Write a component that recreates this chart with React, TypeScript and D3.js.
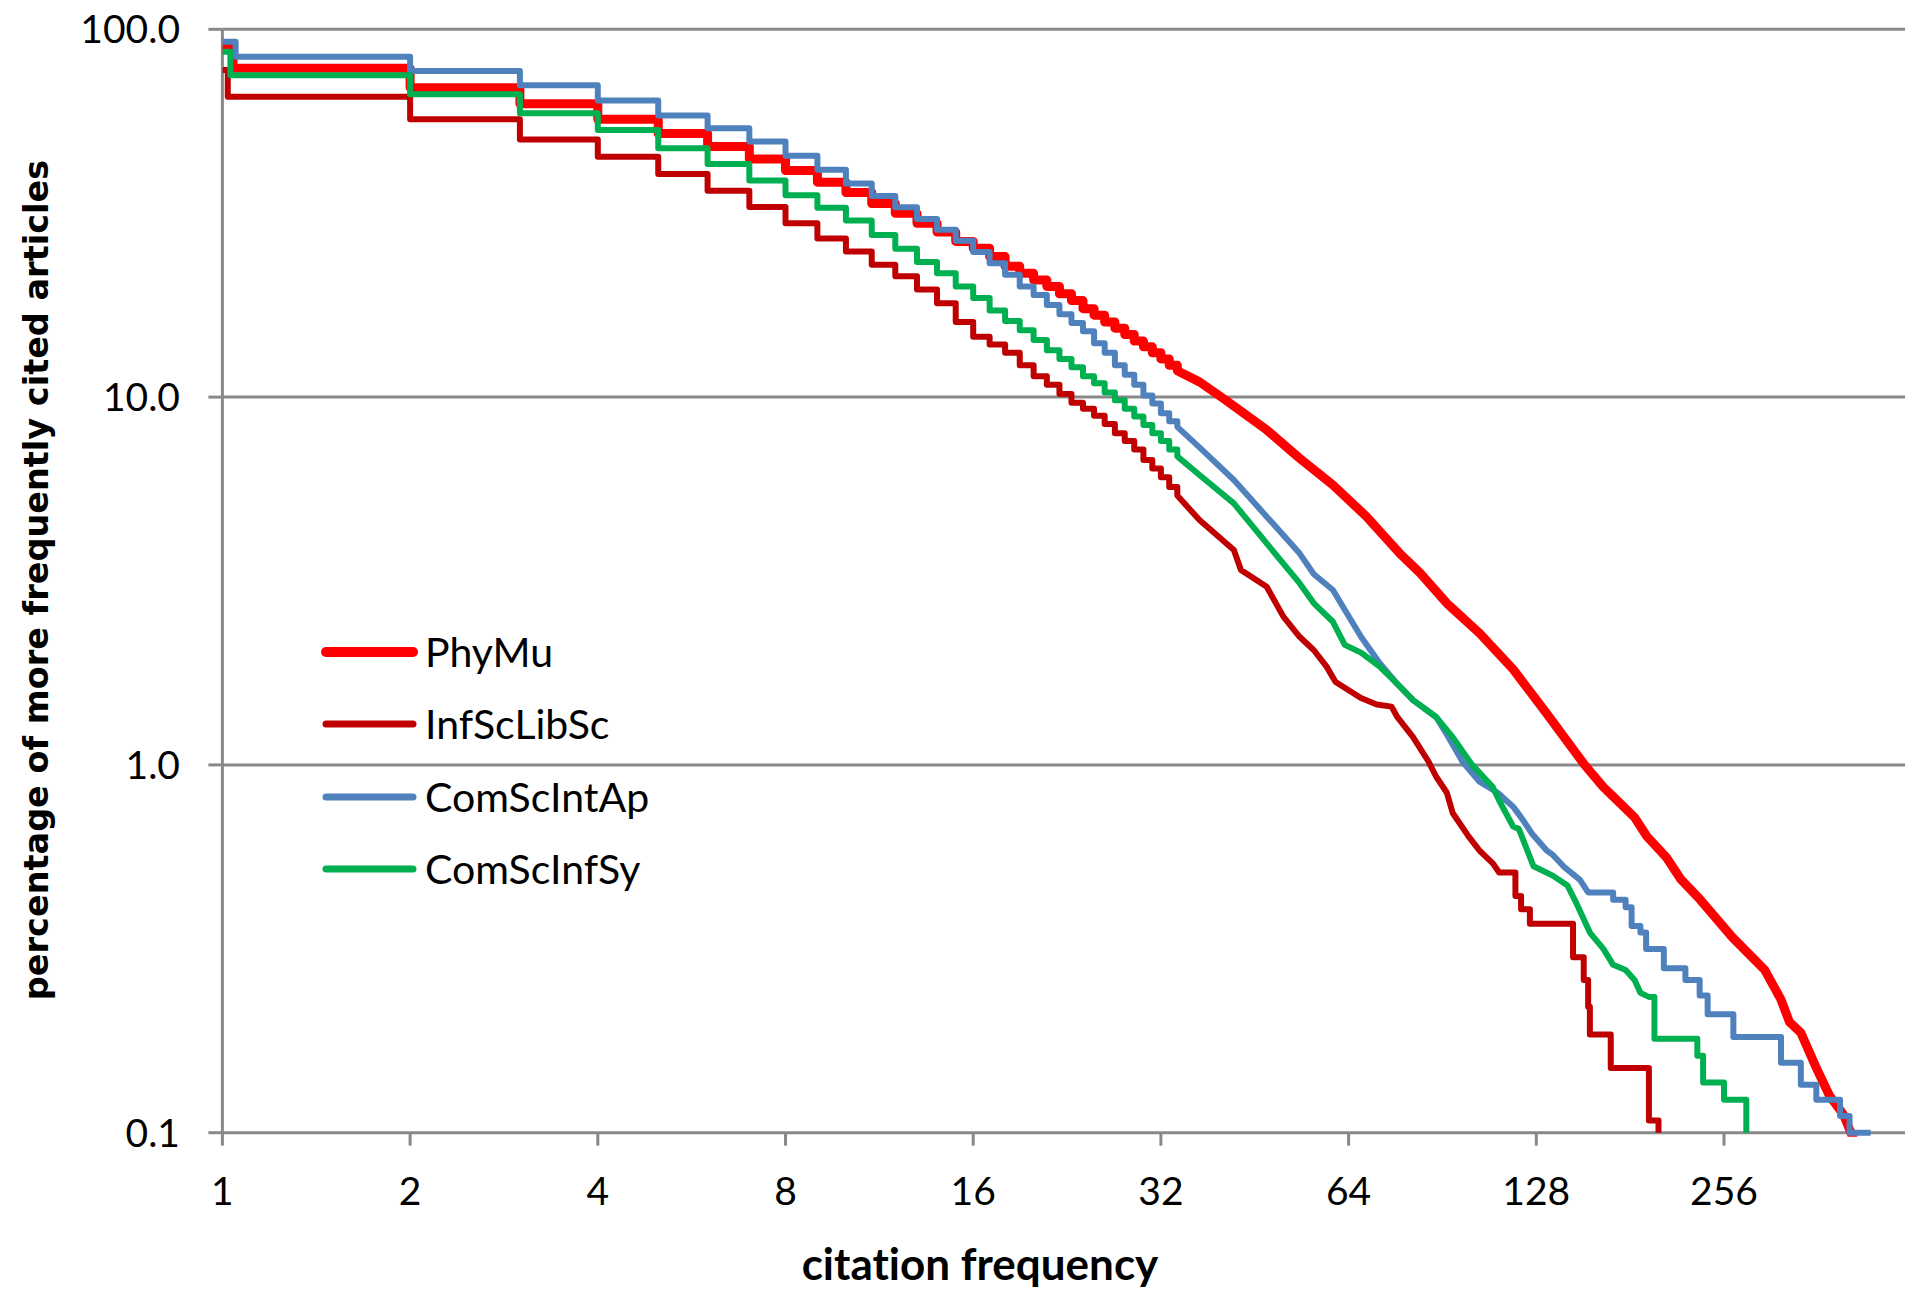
import React from 'react';
import * as d3 from 'd3';

const W = 1905;
const H = 1291;

// ---- axis ticks ----
const xTicks = [1, 2, 4, 8, 16, 32, 64, 128, 256];
const yTicks = [0.1, 1, 10, 100];
const yTickLabels = ['0.1', '1.0', '10.0', '100.0'];

// ---- series meta ----
const seriesNames = ['PhyMu', 'InfScLibSc', 'ComScIntAp', 'ComScInfSy'];
const seriesColors = ['#FF0000', '#C00000', '#4F81BD', '#00B050'];
const seriesWidths = [9, 6, 6, 6];

// ---- PhyMu ----
const phyHeadCit = [1, 1.04, 2, 3, 4, 5, 6, 7, 8, 9, 10, 11, 12, 13, 14, 15, 16, 17, 18, 19, 20, 21, 22, 23, 24, 25, 26, 27, 28, 29, 30, 31, 32, 33];
const phyHeadPct = [89, 78.3, 69.4, 62.7, 56.9, 52.1, 48.0, 44.4, 41.3, 38.4, 36.0, 33.6, 31.6, 29.7, 28.1, 26.5, 25.4, 24.1, 22.7, 21.7, 20.8, 20.0, 19.1, 18.3, 17.4, 16.7, 16.0, 15.4, 14.8, 14.2, 13.7, 13.2, 12.7, 12.2];
const phyMidCit = [34, 36.9, 40.7, 47.3, 53.4, 60.4, 68.4, 77.4, 83.4, 92, 103.8, 117.5, 133, 153, 164, 170, 184, 192.5, 207, 218, 234.5, 264, 297.5, 316, 326, 340, 360, 378, 398, 412, 420];
const phyMidPct = [11.8, 11.0, 9.8, 8.14, 6.82, 5.77, 4.73, 3.75, 3.32, 2.75, 2.28, 1.82, 1.38, 1.0, 0.87, 0.82, 0.72, 0.64, 0.56, 0.49, 0.43, 0.34, 0.277, 0.23, 0.2, 0.187, 0.15, 0.126, 0.112, 0.097, 0.09];
const phyTailCit: number[] = [];
const phyTailPct: number[] = [];

// ---- InfScLibSc ----
const infHeadCit = [1, 1.02, 2, 3, 4, 5, 6, 7, 8, 9, 10, 11, 12, 13, 14, 15, 16, 17, 18, 19, 20, 21, 22, 23, 24, 25, 26, 27, 28, 29, 30, 31, 32, 33];
const infHeadPct = [77.5, 65.6, 56.9, 50.2, 45.0, 40.4, 36.4, 32.9, 29.7, 27.0, 24.9, 22.9, 21.3, 19.6, 18.0, 16.0, 14.6, 13.9, 13.2, 12.2, 11.4, 10.8, 10.2, 9.65, 9.3, 8.9, 8.45, 7.97, 7.6, 7.2, 6.75, 6.4, 6.05, 5.7];
const infMidCit = [34, 36.9, 41.9, 43, 47.3, 50.3, 53.4, 56.3, 59, 61, 67, 71, 75, 76.6, 81.2, 86, 88.4, 92, 94, 99.6, 103.8, 109, 111.6];
const infMidPct = [5.4, 4.63, 3.84, 3.39, 3.05, 2.53, 2.23, 2.05, 1.85, 1.68, 1.52, 1.46, 1.44, 1.35, 1.19, 1.02, 0.93, 0.84, 0.74, 0.64, 0.585, 0.54, 0.51];
const infTailCit = [118.5, 121, 125, 146.6, 152.5, 155, 156, 168.5, 194, 201];
const infTailPct = [0.44, 0.405, 0.37, 0.3, 0.26, 0.22, 0.185, 0.15, 0.108, 0.1];

// ---- ComScIntAp ----
const intHeadCit = [1, 1.05, 2, 3, 4, 5, 6, 7, 8, 9, 10, 11, 12, 13, 14, 15, 16, 17, 18, 19, 20, 21, 22, 23, 24, 25, 26, 27, 28, 29, 30, 31, 32, 33];
const intHeadPct = [92.5, 84.2, 77.0, 70.4, 64.0, 58.3, 53.8, 49.5, 45.3, 41.5, 38.1, 35.2, 32.8, 30.5, 28.5, 26.6, 24.8, 23.1, 21.5, 20.0, 18.95, 17.8, 16.8, 15.9, 15.1, 14.0, 13.2, 12.2, 11.5, 10.8, 10.1, 9.6, 9.04, 8.6];
const intMidCit = [34, 36.9, 41.9, 47.3, 53.4, 56.3, 60.4, 63.1, 67, 71.8, 76.6, 81.2, 88.4, 92, 97.5, 103.8, 111, 117.5, 121, 126, 133, 136, 141.5, 150.4, 155];
const intMidPct = [8.3, 7.3, 5.95, 4.73, 3.76, 3.3, 2.99, 2.64, 2.23, 1.89, 1.66, 1.5, 1.35, 1.21, 1.02, 0.9, 0.84, 0.77, 0.72, 0.65, 0.585, 0.57, 0.53, 0.487, 0.45];
const intTailCit = [170, 178, 182, 188, 192, 205, 222, 234, 241, 265, 316, 340, 360, 393, 407, 440];
const intTailPct = [0.43, 0.41, 0.365, 0.35, 0.316, 0.28, 0.26, 0.236, 0.21, 0.182, 0.155, 0.135, 0.123, 0.111, 0.1, 0.1];

// ---- ComScInfSy ----
const sysHeadCit = [1, 1.03, 2, 3, 4, 5, 6, 7, 8, 9, 10, 11, 12, 13, 14, 15, 16, 17, 18, 19, 20, 21, 22, 23, 24, 25, 26, 27, 28, 29, 30, 31, 32, 33];
const sysHeadPct = [86.9, 75.0, 66.6, 59.1, 53.2, 47.5, 43.0, 38.8, 35.4, 32.7, 30.2, 27.6, 25.3, 23.3, 21.7, 20.0, 18.6, 17.2, 16.1, 15.2, 14.3, 13.4, 12.7, 12.05, 11.4, 10.9, 10.3, 9.8, 9.3, 8.85, 8.4, 7.97, 7.6, 7.2];
const sysMidCit = [34, 36.9, 41.9, 47.3, 53.4, 56.3, 60.4, 63.1, 67, 71.8, 76.6, 81.2, 88.4, 94, 101, 109, 111.6, 117.5, 120, 126.7, 136, 143.6, 148, 156, 164, 170, 178, 184, 188, 194];
const sysMidPct = [6.9, 6.14, 5.14, 4.0, 3.12, 2.75, 2.45, 2.12, 2.02, 1.85, 1.66, 1.5, 1.35, 1.19, 1.0, 0.87, 0.8, 0.68, 0.67, 0.53, 0.5, 0.47, 0.425, 0.35, 0.316, 0.286, 0.277, 0.26, 0.24, 0.234];
const sysTailCit = [198, 232, 237, 256, 278];
const sysTailPct = [0.18, 0.162, 0.137, 0.123, 0.1];

const seriesData = [
  [phyHeadCit, phyHeadPct, phyMidCit, phyMidPct, phyTailCit, phyTailPct],
  [infHeadCit, infHeadPct, infMidCit, infMidPct, infTailCit, infTailPct],
  [intHeadCit, intHeadPct, intMidCit, intMidPct, intTailCit, intTailPct],
  [sysHeadCit, sysHeadPct, sysMidCit, sysMidPct, sysTailCit, sysTailPct],
];

// head: step levels (value holds from c_i to next c), mid,
// tail: sparse steps (drop to new level at c)
function buildVertices(hc: number[], hp: number[], mc: number[], mp: number[], tc: number[], tp: number[]) {
  const pts: [number, number][] = [];
  for (let i = 0; i < hc.length; i++) {
    pts.push([hc[i], hp[i]]);
    const next = i + 1 < hc.length ? hc[i + 1] : (mc.length ? mc[0] : tc[0]);
    if (next !== undefined) pts.push([next, hp[i]]);
  }
  for (let i = 0; i < mc.length; i++) pts.push([mc[i], mp[i]]);
  let last = pts[pts.length - 1][1];
  for (let i = 0; i < tc.length; i++) {
    pts.push([tc[i], last]);
    pts.push([tc[i], tp[i]]);
    last = tp[i];
  }
  return pts;
}

const FONT = 'Lato, "Open Sans", sans-serif';
const GRID = '#898989';
const noLig = { fontVariantLigatures: 'none' as const, fontFeatureSettings: '"liga" 0, "clig" 0' };

export default function App() {
  const x0 = 222.4;
  const x1 = 1911.7;
  const yTop = 29.3;
  const yBot = 1132.7;
  const x = d3.scaleLog().base(2).domain([1, 512]).range([x0, x1]);
  const y = d3.scaleLog().domain([0.1, 100]).range([yBot, yTop]);

  const line = d3
    .line<[number, number]>()
    .x((d) => x(d[0]))
    .y((d) => y(d[1]))
    .curve(d3.curveLinear);

  const legendY = [652, 724, 797, 869];

  return (
    <svg width={W} height={H} style={{ position: 'absolute', left: 0, top: 0, background: '#fff' }}>
      <defs>
        <clipPath id="plotClip">
          <rect x={x0} y={yTop - 20} width={W - x0} height={yBot - yTop + 24} />
        </clipPath>
      </defs>
      <rect x={0} y={0} width={W} height={H} fill="#fff" />
      {/* gridlines */}
      {yTicks.filter((t) => t > 0.1).map((t) => (
        <line key={'g' + t} x1={x0} x2={W} y1={y(t)} y2={y(t)} stroke={GRID} strokeWidth={3} />
      ))}
      {/* axes */}
      <line x1={x0} x2={W} y1={yBot} y2={yBot} stroke={GRID} strokeWidth={3} />
      <line x1={x0} x2={x0} y1={yTop} y2={yBot} stroke={GRID} strokeWidth={3} />
      {yTicks.map((t) => (
        <line key={'yt' + t} x1={x0 - 14} x2={x0} y1={y(t)} y2={y(t)} stroke={GRID} strokeWidth={3} />
      ))}
      {xTicks.map((t) => (
        <line key={'xt' + t} x1={x(t)} x2={x(t)} y1={yBot} y2={yBot + 13} stroke={GRID} strokeWidth={3} />
      ))}
      {/* tick labels */}
      {yTicks.map((t, i) => (
        <text key={'yl' + t} x={180} y={y(t) + 14} textAnchor="end" fontFamily={FONT} fontSize={39} fill="#000" style={noLig}>
          {yTickLabels[i]}
        </text>
      ))}
      {xTicks.map((t) => (
        <text key={'xl' + t} x={x(t)} y={1205} textAnchor="middle" fontFamily={FONT} fontSize={39} fill="#000" style={noLig}>
          {String(t)}
        </text>
      ))}
      {/* series */}
      <g clipPath="url(#plotClip)">
        {seriesData.map((s, i) => {
          const pts = buildVertices(s[0], s[1], s[2], s[3], s[4], s[5]);
          return (
            <path
              key={seriesNames[i]}
              d={line(pts) || ''}
              fill="none"
              stroke={seriesColors[i]}
              strokeWidth={seriesWidths[i]}
              strokeLinejoin="round"
              strokeLinecap="butt"
            />
          );
        })}
      </g>
      {/* legend */}
      {seriesNames.map((n, i) => (
        <g key={'lg' + n}>
          <line x1={326} x2={413} y1={legendY[i]} y2={legendY[i]} stroke={seriesColors[i]} strokeWidth={seriesWidths[i] + 1} strokeLinecap="round" />
          <text x={425} y={legendY[i] + 15} fontFamily={FONT} fontSize={41} fill="#000" style={noLig}>
            {n}
          </text>
        </g>
      ))}
      {/* axis titles */}
      <text x={980} y={1280} textAnchor="middle" fontFamily={FONT} fontWeight="bold" fontSize={44} fill="#000" style={noLig}>
        citation frequency
      </text>
      <text
        transform="translate(48,580) rotate(-90)"
        textAnchor="middle"
        fontFamily='"DejaVu Sans", Verdana, sans-serif'
        fontWeight="bold"
        fontSize={33.5}
        fill="#000"
        style={noLig}
      >
        percentage of more frequently cited articles
      </text>
    </svg>
  );
}
